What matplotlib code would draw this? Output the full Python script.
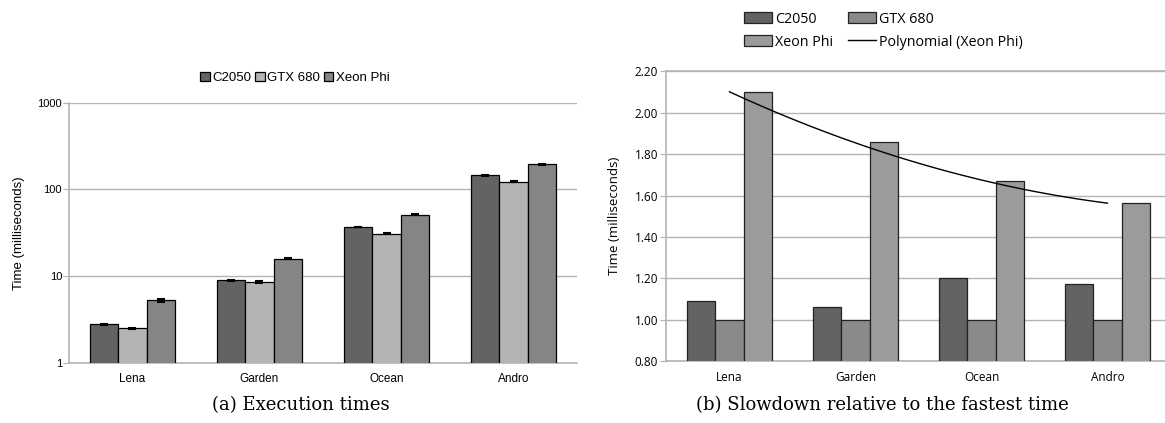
import numpy as np
import matplotlib.pyplot as plt

# data
images = ["Lena", "Garden", "Ocean", "Andro"]
series = ["C2050", "GTX 680", "Xeon Phi"]
time_c2050 = [2.8, 9.0, 37.0, 145.0]
time_gtx680 = [2.5, 8.5, 31.0, 123.0]
time_xeonphi = [5.3, 16.0, 51.0, 195.0]
err_c2050 = [0.05, 0.1, 0.4, 1.5]
err_gtx680 = [0.05, 0.25, 0.4, 1.5]
err_xeonphi = [0.2, 0.2, 0.5, 2.0]
slow_c2050 = [1.09, 1.06, 1.20, 1.17]
slow_gtx680 = [1.00, 1.00, 1.00, 1.00]
slow_xeonphi = [2.10, 1.86, 1.67, 1.565]

fig = plt.figure(figsize=(11.65, 4.23), dpi=100)
x = np.arange(len(images))
grid_col = "#b4b4b4"

# ---- (a) execution times, log scale
ax1 = fig.add_axes([0.0592, 0.1418, 0.4361, 0.6154])
w = 0.223
cols_a = ["#636363", "#b4b4b4", "#858585"]
vals_a = [time_c2050, time_gtx680, time_xeonphi]
errs_a = [err_c2050, err_gtx680, err_xeonphi]
for i in range(3):
    ax1.bar(x + (i - 1) * w, vals_a[i], w, color=cols_a[i], edgecolor="black",
            linewidth=0.9, label=series[i], zorder=3,
            yerr=errs_a[i], error_kw=dict(ecolor="black", capsize=3, elinewidth=1, capthick=1.5))
ax1.set_yscale("log")
ax1.set_ylim(1, 1000)
ax1.set_xlim(-0.5, 3.5)
ax1.set_yticks([1, 10, 100, 1000])
ax1.set_yticklabels(["1", "10", "100", "1000"], family="Liberation Sans", fontsize=8)
ax1.minorticks_off()
ax1.yaxis.grid(True, color=grid_col, linewidth=1, zorder=0)
ax1.set_xticks(x)
ax1.set_xticklabels(images, family="Liberation Sans", fontsize=8.5)
ax1.tick_params(axis="x", length=0, pad=7)
ax1.tick_params(axis="y", length=4, color=grid_col, pad=1)
for s in ["top", "right"]:
    ax1.spines[s].set_visible(False)
for s in ["left", "bottom"]:
    ax1.spines[s].set_color(grid_col)
    ax1.spines[s].set_linewidth(1.2)
ax1.set_ylabel("Time (milliseconds)", fontsize=9.5, family="Liberation Sans", labelpad=9)
ax1.legend(loc="center", bbox_to_anchor=(0.445, 1.095), ncol=3, frameon=False,
           prop={"family": "Liberation Sans", "size": 9.5}, handlelength=0.7,
           handleheight=0.7, handletextpad=0.2, columnspacing=0.3)

# ---- (b) slowdown relative to fastest
ax2 = fig.add_axes([0.5721, 0.1466, 0.4326, 0.6844])
w2 = 0.225
cols_b = ["#636363", "#8a8a8a", "#9b9b9b"]
vals_b = [slow_c2050, slow_gtx680, slow_xeonphi]
for i in range(3):
    ax2.bar(x + (i - 1) * w2, vals_b[i], w2, bottom=0, color=cols_b[i],
            edgecolor="#222222", linewidth=0.9, label=series[i], zorder=3)
coef = np.polyfit(x + 1, slow_xeonphi, 2)
xs = np.linspace(1, 4, 100)
ax2.plot(xs - 1, np.polyval(coef, xs), color="black", linewidth=1,
         label="Polynomial (Xeon Phi)", zorder=4)
ax2.set_ylim(0.8, 2.2)
ax2.set_xlim(-0.5, 3.5)
ax2.set_yticks(np.arange(0.8, 2.21, 0.2))
ax2.set_yticklabels(["%.2f" % v for v in np.arange(0.8, 2.21, 0.2)],
                    family="Open Sans", fontsize=8.5)
ax2.yaxis.grid(True, color=grid_col, linewidth=1, zorder=0)
ax2.set_xticks(x)
ax2.set_xticklabels(images, family="Open Sans", fontsize=8.5)
ax2.tick_params(axis="x", length=0, pad=7)
ax2.tick_params(axis="y", length=4, color=grid_col, pad=2)
for s in ["left", "bottom", "top", "right"]:
    ax2.spines[s].set_color(grid_col)
    ax2.spines[s].set_linewidth(1.2)
ax2.set_ylabel("Time (milliseconds)", fontsize=9.5, family="Open Sans", labelpad=10)
h, l = ax2.get_legend_handles_labels()
order = [1, 3, 2, 0]
ax2.legend([h[k] for k in order], [l[k] for k in order], loc="upper left",
           bbox_to_anchor=(738 / 1165, 1 - 6 / 423), bbox_transform=fig.transFigure,
           borderaxespad=0, ncol=2, frameon=False,
           prop={"family": "Open Sans", "size": 10.3}, handlelength=2.0,
           handleheight=0.75, handletextpad=0.2, columnspacing=1.0, labelspacing=0.55)

fig.text(0.258, 0.043, "(a) Execution times", ha="center", va="center",
         fontsize=13, family="DejaVu Serif")
fig.text(0.757, 0.043, "(b) Slowdown relative to the fastest time", ha="center",
         va="center", fontsize=13, family="DejaVu Serif")

fig.savefig("out.png", dpi=100)
